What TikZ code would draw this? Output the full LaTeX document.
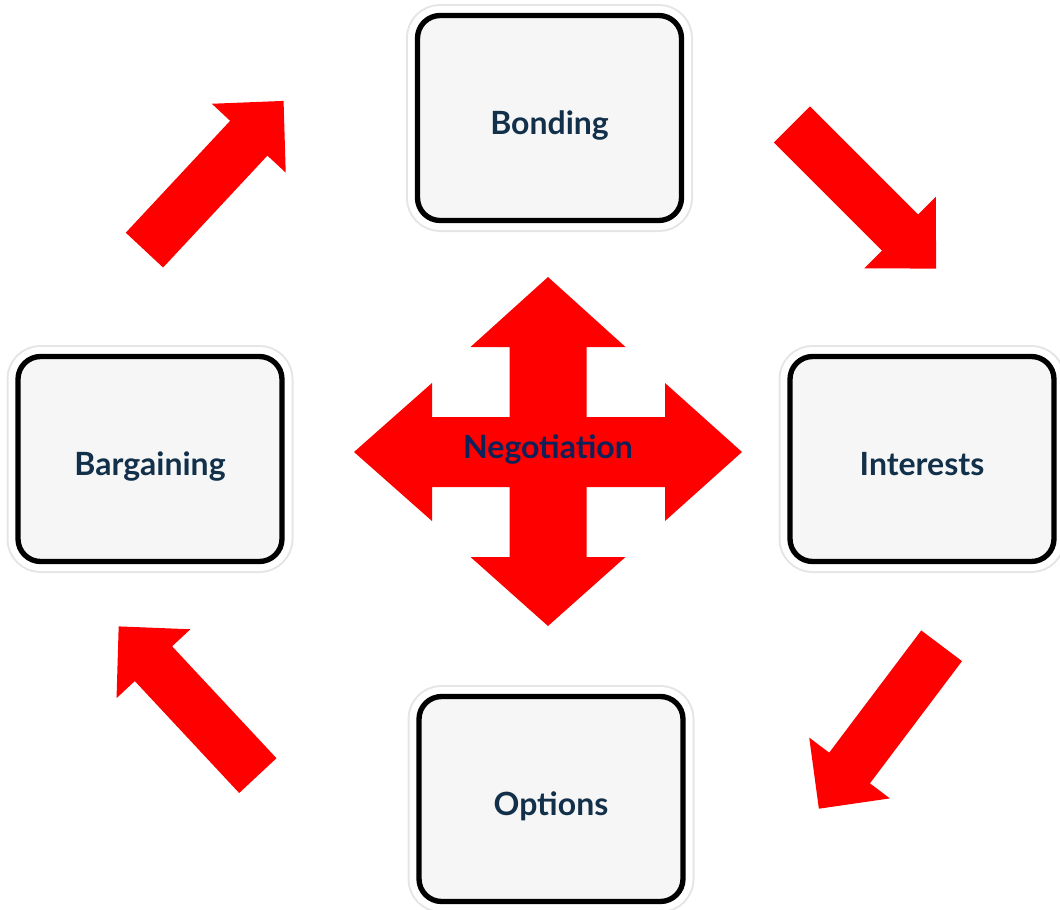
\documentclass[tikz,border=0pt]{standalone}
\usepackage{fontspec}
\setmainfont{Lato}
\usepackage{tikz}
\usetikzlibrary{shapes, positioning, calc}
\usepackage{xcolor}
\definecolor{boxfill}{HTML}{F6F6F6}
\definecolor{boxtext}{HTML}{12304A}
\definecolor{hubtext}{HTML}{0E2158}

\begin{document}
\begin{tikzpicture}[
        x=0.75pt, y=-0.75pt,
        stage/.style={rectangle, rounded corners=17pt, draw=black, line width=4pt,
            fill=boxfill, minimum width=198pt, minimum height=153.75pt,
            text height=24.75pt, text depth=0pt, inner sep=0pt,
            font=\fontsize{24}{28}\selectfont\bfseries, text=boxtext,
            preaction={draw=black!10, line width=17.25pt},
            preaction={draw=white, line width=14.25pt}},
        cyclearrow/.pic={
            \fill[red] (-102,-25.5) -- (51,-25.5) -- (51,-50.5) -- (102,0)
                -- (51,50.5) -- (51,25.5) -- (-102,25.5) -- cycle;
        },
        crossfill/.style={fill=red},
        hub/.style={font=\fontsize{24}{28}\selectfont\bfseries, text=hubtext, inner sep=0pt}
    ]

    \useasboundingbox (0,0) rectangle (1060,910);

    % the four stages
    \node[stage] (bonding) at (549.5,118) {Bonding};
    \node[stage] (interests) at (922,459) {Interests};
    \node[stage] (options) at (551,799) {Options};
    \node[stage] (bargaining) at (150,459) {Bargaining};

    % arrows round the cycle
    \pic[rotate=-45] (bondtoint) at (864,196.5) {cyclearrow};
    \pic[rotate=-127] (inttoopt) at (880.25,727.25) {cyclearrow};
    \pic[rotate=133] (opttobarg) at (188.25,701) {cyclearrow};
    \pic[rotate=47] (bargtobond) at (214,175.5) {cyclearrow};

    % centre cross
    \begin{scope}[shift={(548,452)}]
        \fill[crossfill] (0,-175) -- (77.5,-105) -- (38.5,-105) -- (38.5,-35)
            -- (117,-35) -- (117,-69) -- (194,0) -- (117,69) -- (117,35)
            -- (38.5,35) -- (38.5,105) -- (77.5,105) -- (0,174) -- (-77.5,105)
            -- (-38.5,105) -- (-38.5,35) -- (-116,35) -- (-116,69) -- (-194,0)
            -- (-116,-69) -- (-116,-35) -- (-38.5,-35) -- (-38.5,-105)
            -- (-77.5,-105) -- cycle;
        \node[hub, anchor=base] (negotiation) at (0,6) {Negotiation};
    \end{scope}

\end{tikzpicture}
\end{document}
